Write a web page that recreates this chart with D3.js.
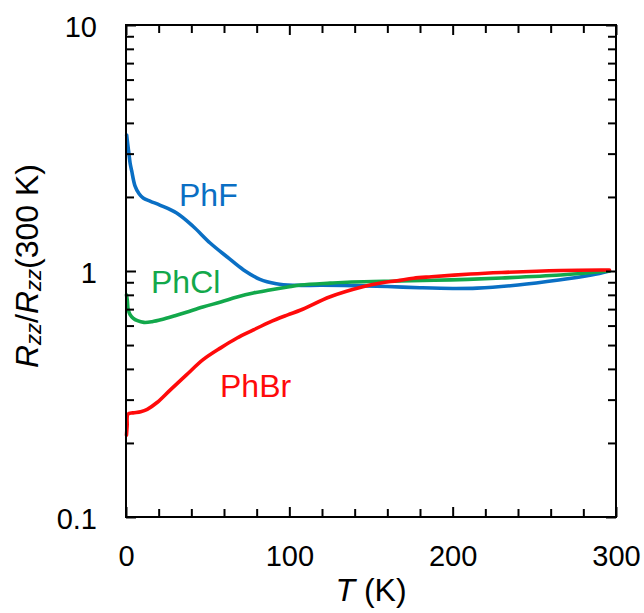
<!DOCTYPE html>
<html>
<head>
<meta charset="utf-8">
<script src="https://cdn.jsdelivr.net/npm/d3@7"></script>
<style>
  html, body { margin: 0; padding: 0; background: #fff; }
  svg { display: block; }
  text { font-family: "Liberation Sans", Arial, Helvetica, sans-serif; fill: #000; }
</style>
</head>
<body>
<svg id="chart" width="644" height="613"></svg>
<script>
// ---- Data ----
const tempF = [0.4, 1.0, 1.8, 2.5, 3.5, 5.5, 8, 10.5, 15, 21, 31, 41, 51.5, 62, 72, 82, 92, 102, 120, 140, 160, 180, 200, 215, 240, 265, 285, 296];
const phF   = [3.57, 3.3, 3.0, 2.75, 2.55, 2.22, 2.06, 1.98, 1.92, 1.85, 1.72, 1.52, 1.30, 1.14, 1.01, 0.925, 0.888, 0.875, 0.875, 0.872, 0.865, 0.855, 0.849, 0.852, 0.877, 0.919, 0.963, 1.0];

const tempCl = [0.3, 0.8, 1.3, 2.5, 4.3, 7, 11, 16, 22, 30, 37, 47, 58, 68, 78, 88, 99, 107, 125, 138, 168, 199, 230, 266, 296];
const phCl   = [0.80, 0.76, 0.70, 0.665, 0.644, 0.628, 0.618, 0.622, 0.635, 0.658, 0.68, 0.714, 0.748, 0.784, 0.814, 0.837, 0.861, 0.877, 0.893, 0.902, 0.911, 0.92, 0.937, 0.963, 1.0];

const tempBr = [0.3, 0.7, 1.2, 4.3, 9, 13, 19, 27, 37, 47, 58, 68, 78, 88, 99, 107, 125, 145, 156, 166, 176, 187, 211, 230, 266, 291, 296];
const phBr   = [0.215, 0.235, 0.262, 0.265, 0.268, 0.274, 0.292, 0.328, 0.378, 0.435, 0.487, 0.534, 0.576, 0.62, 0.663, 0.694, 0.786, 0.863, 0.894, 0.913, 0.935, 0.948, 0.972, 0.986, 1.005, 1.01, 1.01];

const seriesNames = ["PhF", "PhCl", "PhBr"];
const xMajorTicks = [0, 100, 200, 300];
const xMinorTicks = [20, 40, 60, 80, 120, 140, 160, 180, 220, 240, 260, 280];
const yMajorTicks = [0.1, 1, 10];
const yMajorLabels = ["0.1", "1", "10"];
const yMinorTicks = [0.2, 0.3, 0.4, 0.5, 0.6, 0.7, 0.8, 0.9, 2, 3, 4, 5, 6, 7, 8, 9];

// ---- Layout ----
const svg = d3.select("#chart");
const L = 126, R = 616, T = 25, B = 517;
const x = d3.scaleLinear().domain([0, 300]).range([L, R]);
const y = d3.scaleLog().domain([0.1, 10]).range([B, T]);

const colors = { PhF: "#0a6fc4", PhCl: "#12a84b", PhBr: "#ff0a0a" };
const series = [
  { name: "PhF", t: tempF, v: phF },
  { name: "PhCl", t: tempCl, v: phCl },
  { name: "PhBr", t: tempBr, v: phBr }
];

// curves
const line = d3.line().x(d => x(d[0])).y(d => y(d[1])).curve(d3.curveCatmullRom.alpha(0.5));
series.forEach(s => {
  svg.append("path")
    .datum(d3.zip(s.t, s.v))
    .attr("fill", "none")
    .attr("stroke", colors[s.name])
    .attr("stroke-width", 3.6)
    .attr("stroke-linejoin", "round")
    .attr("stroke-linecap", "round")
    .attr("d", line);
});

// axes helper
function styleAxis(g) {
  g.select(".domain").remove();
  g.selectAll(".tick line").attr("stroke", "#000").attr("stroke-width", 2);
}

// bottom
const gB = svg.append("g").attr("transform", `translate(0,${B})`);
gB.call(d3.axisBottom(x).tickValues(xMajorTicks).tickSize(-10).tickFormat(d3.format("d")));
styleAxis(gB);
gB.selectAll(".tick text").attr("y", 49).attr("dy", 0).attr("font-size", 29)
  .style("font-family", "'Liberation Sans', Arial, sans-serif");
const gBm = svg.append("g").attr("transform", `translate(0,${B})`);
gBm.call(d3.axisBottom(x).tickValues(xMinorTicks).tickSize(-8).tickFormat(""));
styleAxis(gBm);

// top
const gT = svg.append("g").attr("transform", `translate(0,${T})`);
gT.call(d3.axisTop(x).tickValues(xMajorTicks).tickSize(-10).tickFormat(""));
styleAxis(gT);
const gTm = svg.append("g").attr("transform", `translate(0,${T})`);
gTm.call(d3.axisTop(x).tickValues(xMinorTicks).tickSize(-8).tickFormat(""));
styleAxis(gTm);

// left
const gL = svg.append("g").attr("transform", `translate(${L},0)`);
gL.call(d3.axisLeft(y).tickValues(yMajorTicks).tickSize(-10).tickFormat((d, i) => yMajorLabels[i]));
styleAxis(gL);
gL.selectAll(".tick text").attr("x", -29).attr("dy", 0).attr("y", 11).attr("font-size", 29)
  .attr("text-anchor", "end")
  .style("font-family", "'Liberation Sans', Arial, sans-serif");
const gLm = svg.append("g").attr("transform", `translate(${L},0)`);
gLm.call(d3.axisLeft(y).tickValues(yMinorTicks).tickSize(-8).tickFormat(""));
styleAxis(gLm);

// right
const gR = svg.append("g").attr("transform", `translate(${R},0)`);
gR.call(d3.axisRight(y).tickValues(yMajorTicks).tickSize(-10).tickFormat(""));
styleAxis(gR);
const gRm = svg.append("g").attr("transform", `translate(${R},0)`);
gRm.call(d3.axisRight(y).tickValues(yMinorTicks).tickSize(-8).tickFormat(""));
styleAxis(gRm);

// frame
svg.append("rect")
  .attr("x", L).attr("y", T).attr("width", R - L).attr("height", B - T)
  .attr("fill", "none").attr("stroke", "#000").attr("stroke-width", 2);

// series labels
const labelPos = { PhF: [179, 206], PhCl: [151, 293], PhBr: [220, 397] };
seriesNames.forEach(n => {
  svg.append("text")
    .attr("x", labelPos[n][0]).attr("y", labelPos[n][1])
    .attr("font-size", 32)
    .style("fill", colors[n])
    .text(n);
});

// x title
const xt = svg.append("text")
  .attr("x", (L + R) / 2).attr("y", 601)
  .attr("text-anchor", "middle")
  .attr("font-size", 32);
xt.append("tspan").attr("font-style", "italic").text("T");
xt.append("tspan").text(" (K)");

// y title
const yt = svg.append("text")
  .attr("transform", `translate(38,${266}) rotate(-90)`)
  .attr("text-anchor", "middle")
  .attr("font-size", 32);
yt.append("tspan").attr("font-style", "italic").text("R");
yt.append("tspan").attr("font-style", "italic").attr("font-size", 22).attr("dy", 3).text("zz");
yt.append("tspan").attr("dy", -3).text("/");
yt.append("tspan").attr("font-style", "italic").text("R");
yt.append("tspan").attr("font-style", "italic").attr("font-size", 22).attr("dy", 3).text("zz");
yt.append("tspan").attr("dy", -3).text("(300 K)");
</script>
</body>
</html>
